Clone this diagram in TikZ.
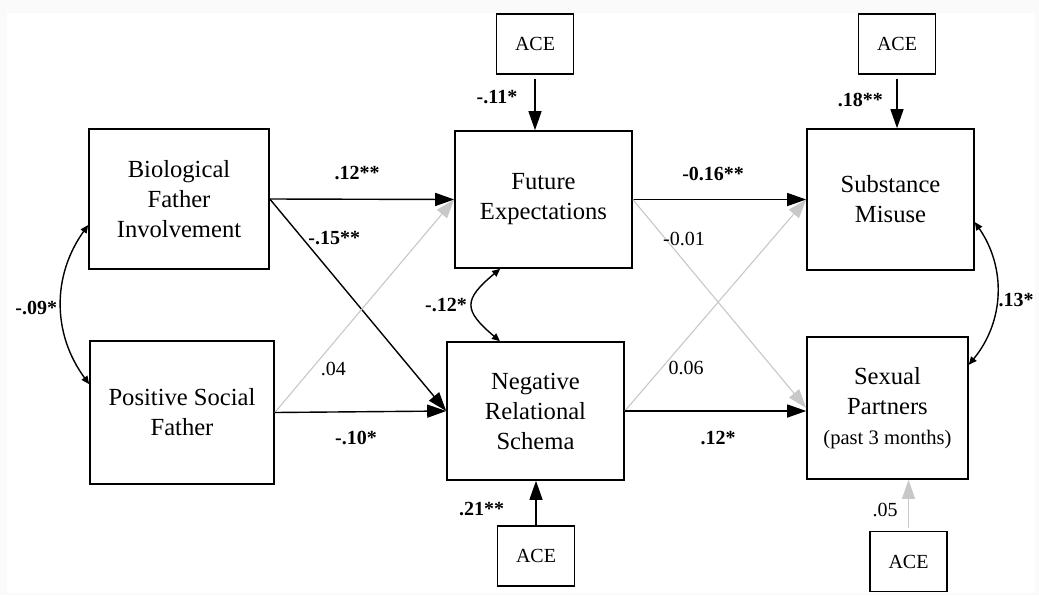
\documentclass[tikz,border=0pt]{standalone}
\usepackage{fontspec}
\setmainfont{Liberation Serif}
\usetikzlibrary{arrows.meta}

\definecolor{nsgray}{RGB}{200,200,200}

\begin{document}
\begin{tikzpicture}[
        x=0.5pt, y=-0.5pt,
        var_box/.style={draw, rectangle, line width=0.8pt, align=center, inner sep=0pt, font=\fontsize{12.3}{15}\selectfont},
        ace_box/.style={draw, rectangle, line width=0.8pt, minimum width=38.5pt, minimum height=30pt, inner sep=0pt, font=\fontsize{10}{12}\selectfont},
        arrow/.style={-{Triangle[length=9.5pt, width=6.5pt]}, line width=0.7pt},
        ns_arrow/.style={-{Triangle[length=9.5pt, width=6.5pt]}, line width=0.55pt, draw=nsgray},
        cov_arrow/.style={{Triangle[length=4pt, width=3.5pt]}-{Triangle[length=4pt, width=3.5pt]}, line width=0.7pt},
        coef/.style={font=\fontsize{10}{12}\selectfont\bfseries, inner sep=0pt},
        coef_ns/.style={font=\fontsize{10}{12}\selectfont, inner sep=0pt}
    ]
        \useasboundingbox (0,0) rectangle (1039,595);
        \fill[black!2] (0,0) rectangle (1039,595);
        \fill[white] (7,13) rectangle (1035,593);

        % fathers
        \node[var_box, minimum width=90pt, minimum height=70pt] (bio_father) at (179,199) {Biological\\Father\\Involvement};
        \node[var_box, minimum width=92pt, minimum height=71.5pt] (soc_father) at (182,412.5) {Positive Social\\Father};

        % mediators
        \node[var_box, minimum width=88.5pt, minimum height=68.5pt] (future) at (543.5,199.5) {Future\\Expectations};
        \node[var_box, minimum width=88.5pt, minimum height=69pt] (schema) at (535.5,411) {Negative\\Relational\\Schema};

        % outcomes
        \node[var_box, minimum width=83.5pt, minimum height=70.5pt] (substance) at (890.5,199.5) {Substance\\Misuse};
        \node[var_box, minimum width=80.5pt, minimum height=71pt] (partners) at (887.5,408) {Sexual\\Partners\\{\fontsize{10.3}{12}\selectfont(past 3 months)}};

        % covariates
        \node[ace_box] (ace_future) at (535,44) {ACE};
        \node[ace_box] (ace_substance) at (897,44) {ACE};
        \node[ace_box] (ace_schema) at (536,556) {ACE};
        \node[ace_box] (ace_partners) at (908.5,561.5) {ACE};

        % paths
        \draw[arrow] (bio_father.east) -- node[coef, pos=0.473, yshift=13pt] {.12**} (future.west);
        \draw[arrow] (bio_father.east) -- node[coef, pos=0.184, xshift=16pt] {-.15**} (schema.west);
        \draw[ns_arrow] (soc_father.east) -- node[coef_ns, pos=0.202, xshift=11.2pt] {.04} (future.west);
        \draw[arrow] (soc_father.east) -- node[coef, pos=0.474, yshift=-13pt] {-.10*} (schema.west);

        \draw[arrow] (future.east) -- node[coef, pos=0.463, yshift=13pt] {-0.16**} (substance.west);
        \draw[ns_arrow] (future.east) -- node[coef_ns, pos=0.189, xshift=9.2pt] {-0.01} (partners.west);
        \draw[ns_arrow] (schema.east) -- node[coef_ns, pos=0.203, xshift=12.2pt] {0.06} (substance.west);
        \draw[arrow] (schema.east) -- node[coef, pos=0.514, yshift=-13.5pt] {.12*} (schema.east -| partners.west);

        \draw[arrow, shorten <=2pt] (ace_future.south) -- node[coef, pos=0.4, xshift=-19pt] {-.11*} (ace_future.south |- future.north);
        \draw[arrow, shorten <=2pt] (ace_substance.south) -- node[coef, pos=0.47, xshift=-18.3pt] {.18**} (ace_substance.south |- substance.north);
        \draw[arrow] (ace_schema.north) -- node[coef, pos=0.37, xshift=-27.2pt] {.21**} (ace_schema.north |- schema.south);
        \draw[ns_arrow, shorten <=1.5pt] (ace_partners.north) -- node[coef_ns, pos=0.415, xshift=-11.7pt] {.05} (ace_partners.north |- partners.south);

        % correlations
        \draw[cov_arrow] (bio_father.196) to[bend right=36] node[coef, xshift=-12.5pt, yshift=-1.5pt] {-.09*} (soc_father.163);
        \draw[cov_arrow] (future.238) to[bend right=50, looseness=1.7] node[coef, xshift=-13.2pt] {-.12*} (schema.117);
        \draw[cov_arrow] (substance.-15) to[bend left=37] node[coef, xshift=9.5pt, yshift=-3pt] {.13*} (partners.28);

    \end{tikzpicture}
\end{document}
